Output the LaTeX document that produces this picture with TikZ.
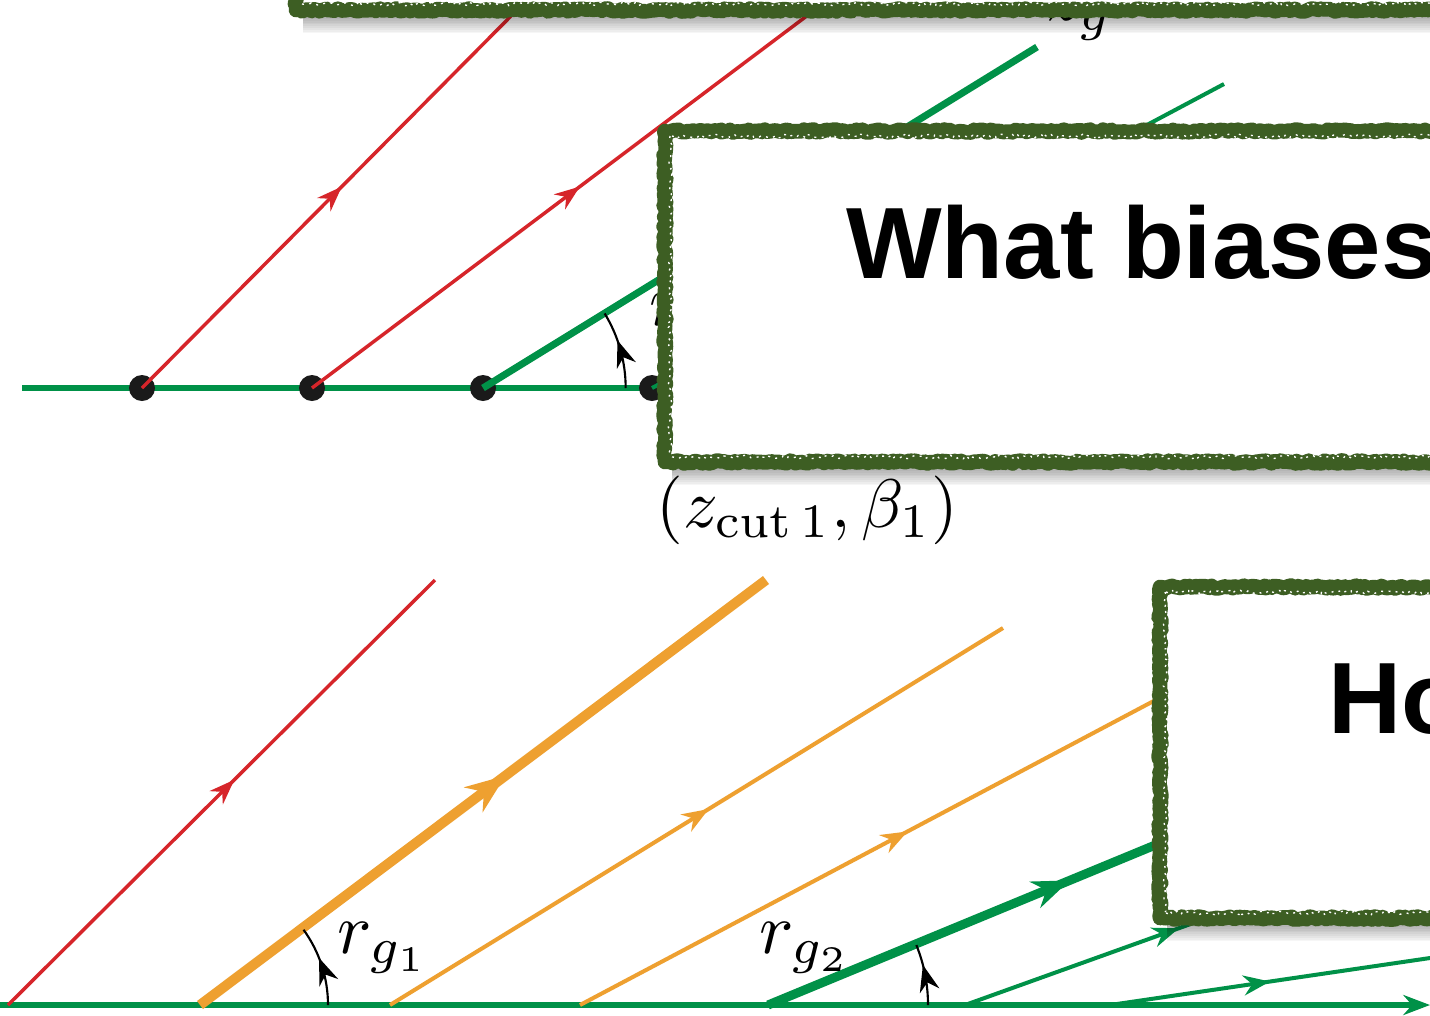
\documentclass[tikz,border=0pt]{standalone}
\usepackage{fontspec}
\newfontfamily\boxfont{Liberation Sans}
\usetikzlibrary{arrows.meta,decorations.pathmorphing,decorations.markings}
\definecolor{jred}{RGB}{214,37,42}
\definecolor{jgreen}{RGB}{0,145,72}
\definecolor{jorange}{RGB}{238,160,48}
\definecolor{boxgreen}{RGB}{61,94,35}
\definecolor{dotc}{RGB}{26,26,26}
\tikzset{
  redline/.style={draw=jred,line width=2.6pt},
  gthick/.style={draw=jgreen,line width=5.3pt},
  gthin/.style={draw=jgreen,line width=3pt},
  gbase/.style={draw=jgreen,line width=4.8pt},
  othick/.style={draw=jorange,line width=7.5pt},
  othin/.style={draw=jorange,line width=3pt},
  tipat/.style n args={3}{postaction={decorate,decoration={markings,
      mark=at position #1 with {\arrow{Stealth[length=#2,width=#3]}}}}},
  anglearc/.style={draw=black,line width=1.6pt},
  dotnode/.style={circle,fill=dotc,inner sep=0pt,minimum size=19.5pt},
  mlabel/.style={inner sep=0pt,anchor=base west,scale=5.4},
  boxborder/.style={draw=boxgreen,line width=11pt,fill=white,line join=round,
      decorate,decoration={random steps,segment length=2pt,amplitude=1.1pt}},
  boxspeck/.style={draw=white,line width=1pt,dash pattern=on 1.5pt off 4pt,line join=round,
      decorate,decoration={random steps,segment length=2pt,amplitude=1.4pt}},
  shadowpiece/.style={fill=black,opacity=0.035},
  bigtext/.style={inner sep=0pt,anchor=base west,font=\boxfont\bfseries\fontsize{76}{80}\selectfont}
}
\begin{document}
\begin{tikzpicture}[x=0.75pt,y=-0.75pt]
\useasboundingbox (0,0) rectangle (1430,1015);
\clip (0,0) rectangle (1430,1015);
\fill[white] (0,0) rectangle (1430,1015);

% ---------- top diagram ----------
\coordinate (tl) at (22,388);
\coordinate (tr) at (800,388);
\draw[gbase] (tl) -- (tr);
\node[dotnode] (d1) at (142,388) {};
\node[dotnode] (d2) at (312,388) {};
\node[dotnode] (d3) at (483,388) {};
\node[dotnode] (d4) at (652,388) {};
\coordinate (r1e) at (512,15);
\coordinate (r2e) at (808,15);
\coordinate (g1e) at (1037,47);
\coordinate (g2e) at (1224,84);
\draw[redline,tipat={0.54}{19pt}{14pt}] (d1.center) -- (r1e);
\draw[redline,tipat={0.54}{19pt}{14pt}] (d2.center) -- (r2e);
\draw[gthick,line cap=butt] (d3.center) -- (g1e);
\draw[gthin] (d4.center) -- (g2e);
\draw[anglearc,tipat={0.62}{20pt}{15pt}] ([xshift=107pt]d3.center) arc[start angle=0,end angle=31.5,radius=107pt];
\node[mlabel] (lrg) at (648,325) {$r_g$};
\node[mlabel] (lzg) at (1045,20) {$z_g$};
\node[inner sep=0pt,anchor=base west,scale=5.15] (lcut) at (655,527) {$(z_{\mathrm{cut}\,1},\beta_1)$};

% ---------- bottom diagram ----------
\coordinate (bl) at (0,1005);
\coordinate (br) at (1430,1005);
\draw[gbase,-{Stealth[length=20pt,width=15pt]}] (bl) -- (br);
\coordinate (b1) at (8,1005);    \coordinate (b1e) at (435,580);
\coordinate (b2) at (200,1005);  \coordinate (b2e) at (766,580);
\coordinate (b3) at (390,1005);  \coordinate (b3e) at (1003,628);
\coordinate (b4) at (580,1005);  \coordinate (b4e) at (1165,695);
\coordinate (b5) at (768,1005);  \coordinate (b5e) at (1165,841);
\coordinate (b6) at (965,1005);  \coordinate (b6e) at (1430,838);
\coordinate (b7) at (1110,1005); \coordinate (b7e) at (1430,958);
\draw[redline,tipat={0.53}{19pt}{14pt}] (b1) -- (b1e);
\draw[othick,tipat={0.54}{30pt}{23pt}] (b2) -- (b2e);
\draw[othin,tipat={0.52}{20pt}{15pt}] (b3) -- (b3e);
\draw[othin,tipat={0.56}{20pt}{15pt}] (b4) -- (b4e);
\draw[gthick,line width=6.8pt,tipat={0.76}{28pt}{21pt}] (b5) -- (b5e);
\draw[gthin,tipat={0.46}{20pt}{15pt}] (b6) -- (b6e);
\draw[gthin,tipat={0.5}{20pt}{15pt}] (b7) -- (b7e);
\draw[anglearc,tipat={0.6}{20pt}{15pt}] ([xshift=96pt]b2) arc[start angle=0,end angle=36,radius=96pt];
\draw[anglearc,tipat={0.66}{20pt}{15pt}] ([xshift=120pt]b5) arc[start angle=0,end angle=22,radius=120pt];
\node[mlabel] (lrg1) at (336,953) {$r_{g_1}$};
\node[mlabel] (lrg2) at (758,953) {$r_{g_2}$};

% ---------- overlay boxes ----------
\foreach \i in {1,...,13} {
  \fill[shadowpiece] (303,-30) rectangle (1500,{10+1.8*\i});
  \fill[shadowpiece] (672,140) rectangle (1500,{462+1.8*\i});
  \fill[shadowpiece] (1167,595) rectangle (1500,{918+1.8*\i});
}
\path[boxborder] (296,-40) rectangle (1520,10);
\path[boxspeck] (302,4) -- (1500,4);
\path[boxborder] (665,131) rectangle (1520,462);
\path[boxspeck] (672,136) -- (1500,136);
\path[boxspeck] (672,457) -- (1500,457);
\path[boxspeck] (670,136) -- (670,456);
\path[boxborder] (1160,587) rectangle (1520,918);
\path[boxspeck] (1166,592) -- (1500,592);
\path[boxspeck] (1166,913) -- (1500,913);
\path[boxspeck] (1165,592) -- (1165,912);
\node[bigtext] (q1) at (846,278) {What biases};
\node[bigtext] (q2) at (1328,733) {Ho};
\end{tikzpicture}
\end{document}
